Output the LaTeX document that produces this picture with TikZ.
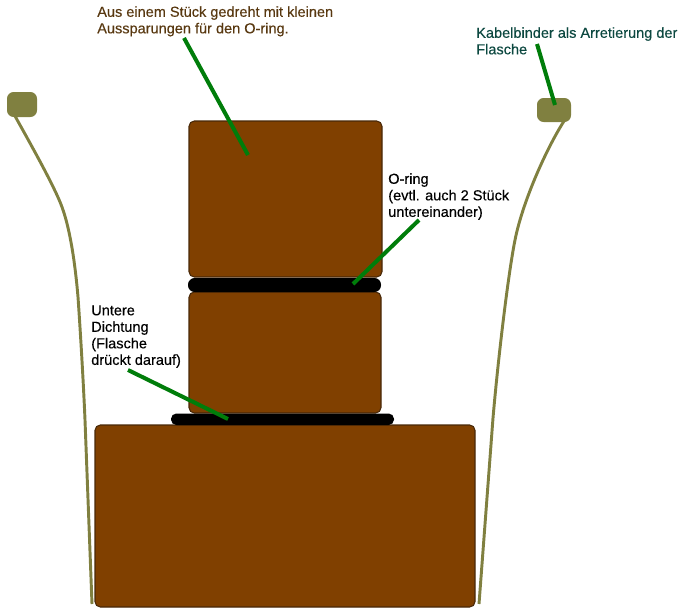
\documentclass[tikz,border=0pt]{standalone}
\usepackage{fontspec}
\setmainfont[FakeBold=0.25]{Liberation Sans}
\definecolor{blockBrown}{RGB}{128,64,0}
\definecolor{blockEdge}{RGB}{72,40,8}
\definecolor{bottleOlive}{RGB}{128,128,64}
\definecolor{leaderGreen}{RGB}{0,125,10}
\definecolor{labelBrown}{RGB}{88,56,16}
\definecolor{labelTeal}{RGB}{12,72,64}
\tikzset{
  block/.style={draw=blockEdge,fill=blockBrown,line width=0.8pt,rounded corners=4},
  seal/.style={fill=black,rounded corners=5},
  bottle/.style={draw=bottleOlive,line width=2.2pt},
  tie/.style={fill=bottleOlive,rounded corners=5},
  leader/.style={draw=leaderGreen,line width=3pt},
  note/.style={anchor=north west,inner sep=0pt,align=left,font=\fontsize{10.9}{12.4}\selectfont}
}
\begin{document}
\begin{tikzpicture}[x=0.75pt,y=0.75pt,yscale=-1,xscale=1]
\useasboundingbox (0,0) rectangle (685,614);

%Bottle walls
\draw [bottle] (15,116) .. controls (26,136) and (54,185) .. (62,207) .. controls (70,229) and (75,262) .. (78,297) .. controls (81,340) and (84,395) .. (85,420) -- (92,604);
\draw [bottle] (566,118) .. controls (548,145) and (523,200) .. (515,240) .. controls (508,275) and (498,360) .. (493,418) -- (479,604);

%Cable ties
\fill [tie] (7,92) rectangle (37,117);
\fill [tie] (537,98) rectangle (571,122);

%Blocks
\draw [block] (189,121) rectangle (382,277);
\draw [block] (189,292) rectangle (381,413);
\draw [block] (95,425) rectangle (475,607);

%Seals
\fill [seal] (188,278) rectangle (381,292);
\fill [seal,rounded corners=4] (171,413.5) rectangle (394,425);

% Text Node
\node (turnedNote) [note,text=labelBrown] at (97,6) {Aus einem Stück gedreht mit kleinen\\Aussparungen für den O-ring.};
% Text Node
\node (tieNote) [note,text=labelTeal] at (476,27) {Kabelbinder als Arretierung der\\Flasche};
% Text Node
\node (ringNote) [note] at (388,173) {O-ring\\(evtl. auch 2 Stück\\untereinander)};
% Text Node
\node (sealNote) [note] at (91,305) {Untere\\Dichtung\\(Flasche\\drückt darauf)};

%Leader ends
\coordinate (turnedFrom) at (184,38);
\coordinate (turnedTo) at (248,155);
\coordinate (tieFrom) at (537,44);
\coordinate (tieTo) at (555,105);
\coordinate (ringFrom) at (419,220);
\coordinate (ringTo) at (353,284);
\coordinate (sealFrom) at (128,370);
\coordinate (sealTo) at (228,419);

%Leaders
\draw [leader] (turnedFrom) -- (turnedTo);
\draw [leader] (tieFrom) -- (tieTo);
\draw [leader] (ringFrom) -- (ringTo);
\draw [leader] (sealFrom) -- (sealTo);

\end{tikzpicture}
\end{document}
